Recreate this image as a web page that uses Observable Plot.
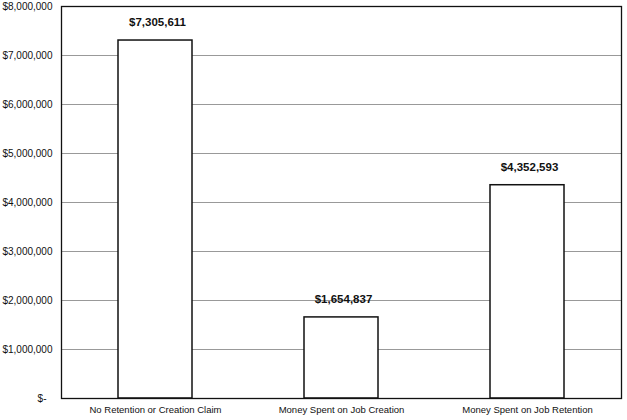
<!DOCTYPE html>
<html>
<head>
<meta charset="utf-8">
<script src="https://cdn.jsdelivr.net/npm/d3@7"></script>
<script src="https://cdn.jsdelivr.net/npm/@observablehq/plot@0.6"></script>
<style>
  html, body { margin: 0; padding: 0; background: #fff; }
  svg { display: block; }
</style>
</head>
<body>
<div id="chart"></div>
<script>
const categories = ["No Retention or Creation Claim", "Money Spent on Job Creation", "Money Spent on Job Retention"];
const values = [7305611, 1654837, 4352593];
const yTicks = [0, 1000000, 2000000, 3000000, 4000000, 5000000, 6000000, 7000000, 8000000];

const data = categories.map((c, i) => ({category: c, value: values[i]}));
const fmtMoney = d => d === 0 ? "$-" : "$" + d3.format(",")(d);

const chart = Plot.plot({
  width: 627,
  height: 420,
  marginLeft: 61,
  marginRight: 6,
  marginTop: 6,
  marginBottom: 22,
  style: {fontFamily: "'Liberation Sans', Arial, sans-serif", fontSize: "10px", color: "#111", background: "#fff"},
  x: {domain: categories, paddingInner: 0.6, paddingOuter: 0.3, label: null},
  y: {domain: [0, 8000000], label: null},
  marks: [
    Plot.ruleY(yTicks.filter(d => d > 0 && d < 8000000), {stroke: "#999", strokeWidth: 1}),
    Plot.barY(data, {x: "category", y: "value", fill: "white", stroke: "#111", strokeWidth: 1.5}),
    Plot.text(data, {x: "category", y: "value", text: d => "$" + d3.format(",")(d.value), dy: -18, dx: 2, fontWeight: "bold", fontSize: 11.5, fill: "#111"}),
    Plot.axisX({tickSize: 0, tickPadding: 8, fontSize: 9.5, label: null}),
    Plot.axisY(yTicks.filter(d => d > 0), {tickSize: 0, tickPadding: 9, tickFormat: fmtMoney, label: null}),
    Plot.axisY([0], {tickSize: 0, tickPadding: 15, tickFormat: fmtMoney, label: null}),
    Plot.frame({stroke: "#111", strokeWidth: 1.3})
  ]
});
document.getElementById("chart").append(chart);
</script>
</body>
</html>
